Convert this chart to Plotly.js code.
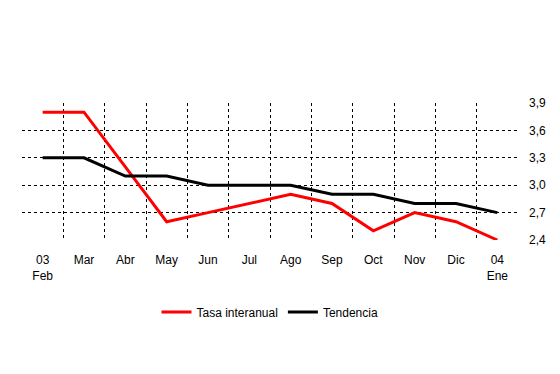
<!DOCTYPE html>
<html><head><meta charset="utf-8">
<script src="https://cdn.plot.ly/plotly-3.0.1.min.js"></script>
<style>body{margin:0;background:#fff}#c{width:560px;height:374px}</style>
</head><body><div id="c"></div>
<script>
const categories = ["03<br>Feb","Mar","Abr","May","Jun","Jul","Ago","Sep","Oct","Nov","Dic","04<br>Ene"];
const tasaInteranual = [3.8,3.8,3.2,2.6,2.7,2.8,2.9,2.8,2.5,2.7,2.6,2.4];
const tendencia = [3.3,3.3,3.1,3.1,3.0,3.0,3.0,2.9,2.9,2.8,2.8,2.7];
const yTicks = [2.4,2.7,3.0,3.3,3.6,3.9];

const idx = categories.map((_, i) => i);
const bounds = idx.slice(0, -1).map(i => i + 0.5);

const traces = [
  {x: idx, y: tasaInteranual, name: "Tasa interanual", type: "scatter", mode: "lines",
   line: {color: "#ff0000", width: 3}},
  {x: idx, y: tendencia, name: "Tendencia", type: "scatter", mode: "lines",
   line: {color: "#000000", width: 3}},
  {x: [0], y: [3], xaxis: "x2", yaxis: "y2", showlegend: false, hoverinfo: "skip",
   mode: "markers", marker: {opacity: 0}}
];

const layout = {
  width: 560, height: 374,
  margin: {l: 22, r: 42, t: 103, b: 134},
  paper_bgcolor: "#fff", plot_bgcolor: "rgba(0,0,0,0)",
  font: {family: "Liberation Sans, Arial, sans-serif", size: 12, color: "#000"},
  separators: ",.",
  showlegend: true,
  legend: {orientation: "h", x: 0.5, xanchor: "center", y: -0.42, yanchor: "top",
           font: {size: 12}, itemwidth: 30, tracegroupgap: 0},
  xaxis: {range: [-0.5, 11.5], tickvals: idx, ticktext: categories, showgrid: false,
          zeroline: false, showline: false, ticks: "", ticklabelstandoff: 11, fixedrange: true},
  xaxis2: {overlaying: "x", range: [-0.5, 11.5], tickvals: bounds, showticklabels: false,
           showgrid: true, gridcolor: "#000", gridwidth: 1, griddash: "3px,3px",
           zeroline: false, ticks: ""},
  yaxis: {range: [2.4, 3.9], tickvals: yTicks, tickformat: ".1f", side: "right",
          showgrid: false, zeroline: false, showline: false, ticks: "", ticklabelstandoff: 10},
  yaxis2: {overlaying: "y", range: [2.4, 3.9], tickvals: yTicks.slice(1, -1),
           showticklabels: false, showgrid: true, gridcolor: "#000", gridwidth: 1,
           griddash: "3px,3px", zeroline: false, ticks: ""}
};

Plotly.newPlot("c", traces, layout, {displayModeBar: false, staticPlot: true});
</script></body></html>
